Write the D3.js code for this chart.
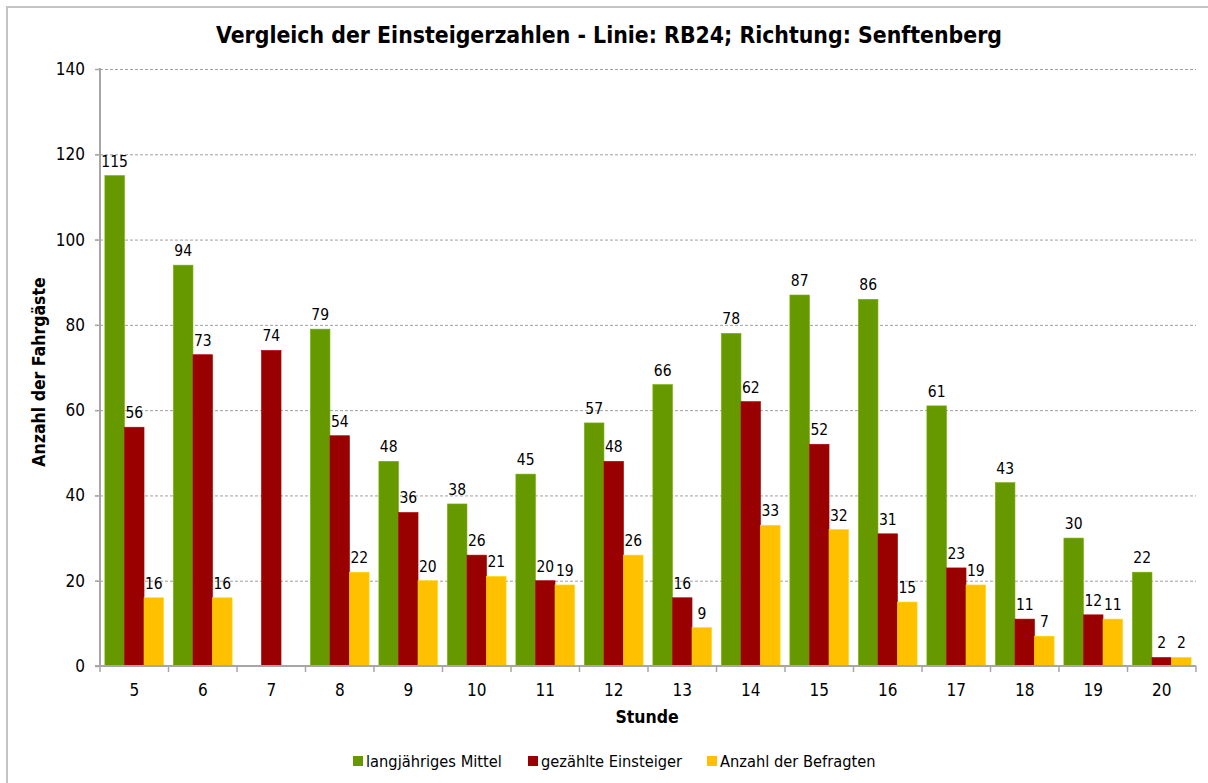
<!DOCTYPE html>
<html><head><meta charset="utf-8">
<script src="https://cdn.jsdelivr.net/npm/d3@7"></script>
<style>
html,body{margin:0;padding:0;background:#fff;}
svg{display:block;}
text{font-family:Tahoma,"DejaVu Sans Condensed","DejaVu Sans",sans-serif;fill:#000;}
</style></head>
<body>
<script>
const categories = ["5","6","7","8","9","10","11","12","13","14","15","16","17","18","19","20"];
const seriesNames = ["langjähriges Mittel","gezählte Einsteiger","Anzahl der Befragten"];
const mittel     = [115,94,null,79,48,38,45,57,66,78,87,86,61,43,30,22];
const einsteiger = [56,73,74,54,36,26,20,48,16,62,52,31,23,11,12,2];
const befragte   = [16,16,null,22,20,21,19,26,9,33,32,15,19,7,11,2];
const yTicks = [0,20,40,60,80,100,120,140];
const colors = ["#669900","#990000","#FFC000"];
const title = "Vergleich der Einsteigerzahlen - Linie: RB24; Richtung: Senftenberg";

const W=1208,H=783;
const svg=d3.select("body").append("svg").attr("width",W).attr("height",H);
svg.append("rect").attr("x",0).attr("y",0).attr("width",W).attr("height",H).attr("fill","#fff");
// outer border
svg.append("path").attr("d",`M7,${H+5} L7,7 L${W+5},7`).attr("fill","none").attr("stroke","#c4c4c4").attr("stroke-width",2);

const L=100,R=1196,T=69,B=666;
const x=d3.scaleBand().domain(categories).range([L,R]).paddingInner(0).paddingOuter(0);
const xs=d3.scaleBand().domain([0,1,2]).range([0,x.bandwidth()]).paddingInner(0).paddingOuter(0.25);
const y=d3.scaleLinear().domain([0,140]).range([B,T]);

// gridlines
svg.append("g").selectAll("line").data(yTicks.filter(d=>d>0)).join("line")
  .attr("x1",L-5).attr("x2",R).attr("y1",d=>y(d)+0.5).attr("y2",d=>y(d)+0.5)
  .attr("stroke","#a0a0a0").attr("stroke-width",1).attr("stroke-dasharray","3,2");

const data=[mittel,einsteiger,befragte];
const g=svg.append("g");
categories.forEach((c,i)=>{
  data.forEach((arr,s)=>{
    const v=arr[i];
    if(v==null) return;
    g.append("rect").attr("x",x(c)+xs(s)).attr("y",y(v)).attr("width",xs.bandwidth()).attr("height",y(0)-y(v))
      .attr("fill",colors[s]).attr("stroke",d3.color(colors[s]).brighter(0.4)).attr("stroke-width",0.6);
    g.append("text").attr("x",x(c)+xs(s)+xs.bandwidth()/2).attr("y",y(v)-9)
      .attr("text-anchor","middle").attr("font-size",15.5).text(v);
  });
});

// y axis
const ya=svg.append("g").attr("transform",`translate(${L},0)`)
  .call(d3.axisLeft(y).tickValues(yTicks).tickSize(5).tickPadding(10));
ya.select(".domain").attr("stroke","#a6a6a6").attr("stroke-width",2).attr("d",`M0,${T-1}V${B}`);
ya.selectAll(".tick line").attr("stroke","#a6a6a6").attr("stroke-width",1.5);
ya.selectAll(".tick text").attr("font-size",17).attr("font-family",'Tahoma,"DejaVu Sans Condensed","DejaVu Sans",sans-serif');

// x axis
const xa=svg.append("g").attr("transform",`translate(0,${B})`)
  .call(d3.axisBottom(x).tickSize(0).tickPadding(18));
xa.select(".domain").attr("stroke","#a6a6a6").attr("stroke-width",2).attr("d",`M${L-5},0H${R}`);
xa.selectAll(".tick text").attr("font-size",17).attr("font-family",'Tahoma,"DejaVu Sans Condensed","DejaVu Sans",sans-serif');
// category boundary ticks
svg.append("g").selectAll("line").data(categories.concat(["end"])).join("line")
  .attr("x1",(d,i)=>i<categories.length?x(d):R).attr("x2",(d,i)=>i<categories.length?x(d):R)
  .attr("y1",B).attr("y2",B+6).attr("stroke","#a6a6a6").attr("stroke-width",1.5);

// titles
svg.append("text").attr("x",609).attr("y",43).attr("text-anchor","middle").attr("font-size",22.8).attr("font-weight","bold").text(title);
svg.append("text").attr("transform",`translate(45,372) rotate(-90)`).attr("text-anchor","middle").attr("font-size",17.5).attr("font-weight","bold").text("Anzahl der Fahrgäste");
svg.append("text").attr("x",647).attr("y",723).attr("text-anchor","middle").attr("font-size",17.5).attr("font-weight","bold").text("Stunde");

// legend
const legX=[353,528,707];
seriesNames.forEach((n,i)=>{
  svg.append("rect").attr("x",legX[i]).attr("y",756).attr("width",10).attr("height",10).attr("fill",colors[i]);
  svg.append("text").attr("x",legX[i]+13).attr("y",767).attr("font-size",16.3).text(n);
});
</script>
</body></html>
